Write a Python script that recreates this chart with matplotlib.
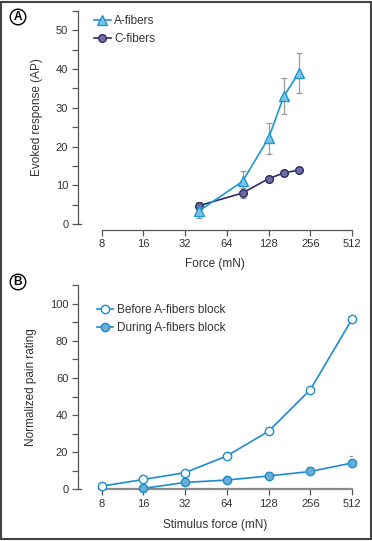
import matplotlib.pyplot as plt
from matplotlib.patches import Rectangle
from matplotlib.ticker import FixedLocator, MultipleLocator

plt.rcParams['font.family'] = ['Liberation Sans', 'DejaVu Sans']
plt.rcParams['font.size'] = 8

# panel A data
force_a = [40, 83, 128, 165, 211]
afib = [3.3, 11.0, 22.2, 33.0, 39.0]
afib_err = [1.8, 2.7, 4.0, 4.6, 5.1]
cfib = [4.7, 8.0, 11.7, 13.2, 13.9]
cfib_err = [1.0, 1.2, 0.8, 0.5, 0.4]

# panel B data
force_before = [8, 16, 32, 64, 128, 256, 512]
before = [1.7, 5.3, 9.0, 18.0, 31.3, 53.7, 91.7]
before_err = [0.5, 1.5, 1.0, 0.8, 1.0, 1.0, 1.0]
force_during = [16, 32, 64, 128, 256, 512]
during = [0.5, 3.7, 5.0, 7.2, 9.6, 14.2]
during_err = [0.5, 1.3, 0.8, 2.3, 2.5, 3.8]

ticks = [8, 16, 32, 64, 128, 256, 512]

axcol = '#555555'
txtcol = '#333333'
errcol = '#999999'

fig = plt.figure(figsize=(3.72, 5.41), dpi=100)
fig.patches.append(Rectangle((0.003, 0.003), 0.994, 0.994, transform=fig.transFigure,
                             fill=False, edgecolor='#444444', linewidth=1.5))

axA = fig.add_axes([78/372, 1-224/541, 274/372, 213/541])
axB = fig.add_axes([78/372, 1-489.3/541, 274/372, 204/541])


def style(ax, ymax, major, minor, outward):
    ax.set_xscale('log', base=2)
    ax.set_xlim(5.39, 512)
    ax.set_ylim(0, ymax)
    ax.xaxis.set_major_locator(FixedLocator(ticks))
    ax.xaxis.set_minor_locator(FixedLocator([]))
    ax.set_xticklabels([str(t) for t in ticks])
    ax.yaxis.set_major_locator(MultipleLocator(major))
    ax.yaxis.set_minor_locator(MultipleLocator(minor))
    for s in ['top', 'right']:
        ax.spines[s].set_visible(False)
    ax.spines['bottom'].set_bounds(8, 512)
    ax.spines['bottom'].set_position(('outward', outward))
    for s in ['left', 'bottom']:
        ax.spines[s].set_color(axcol)
        ax.spines[s].set_linewidth(0.9)
    ax.tick_params(which='both', direction='out', length=4, width=0.9,
                   color=axcol, labelcolor=txtcol, labelsize=8, pad=3)
    ax.patch.set_alpha(0)
    # little foot at the bottom of the y axis
    ax.plot([0, 0.012], [0, 0], transform=ax.transAxes, color=axcol,
            lw=0.9, clip_on=False)


style(axA, 55, 10, 5, 4)
style(axB, 110, 20, 10, 0)
axB.spines['bottom'].set_color('#8a8a8a')
axB.spines['bottom'].set_linewidth(1.6)
axB.spines['bottom'].set_bounds(7.6, 512)

# panel A
axA.errorbar(force_a, afib, yerr=afib_err, fmt='none', ecolor=errcol,
             elinewidth=0.9, capsize=2.5, capthick=0.9, zorder=2)
axA.errorbar(force_a, cfib, yerr=cfib_err, fmt='none', ecolor=errcol,
             elinewidth=0.9, capsize=2.5, capthick=0.9, zorder=2)
axA.plot(force_a, cfib, '-o', color='#2c2c6c', mfc='#6e6e9e', mec='#2c2c6c',
         ms=5.5, lw=1.2, label='C-fibers', zorder=3)
axA.plot(force_a, afib, '-^', color='#1e96d2', mfc='#7cc3e6', mec='#1e96d2',
         ms=6.5, lw=1.2, label='A-fibers', zorder=4)
h, l = axA.get_legend_handles_labels()
axA.legend(h[::-1], l[::-1], loc='upper left', bbox_to_anchor=(0.02, 1.03),
           frameon=False, handlelength=1.4, handletextpad=0.3,
           labelspacing=0.5, fontsize=8.5, labelcolor=txtcol)
axA.set_ylabel('Evoked response (AP)', color=txtcol, fontsize=8.5, labelpad=9)
axA.set_xlabel('Force (mN)', color=txtcol, fontsize=8.5, labelpad=6)

# panel B
axB.errorbar(force_before, before, yerr=[[0]*7, before_err], fmt='none',
             ecolor=errcol, elinewidth=0.9, capsize=2.5, capthick=0.9, zorder=2)
axB.errorbar(force_during, during, yerr=[[0]*6, during_err], fmt='none',
             ecolor=errcol, elinewidth=0.9, capsize=2.5, capthick=0.9, zorder=2)
axB.plot(force_before, before, '-o', color='#1c8ccc', mfc='white', mec='#1c8ccc',
         ms=6, lw=1.2, label='Before A-fibers block', zorder=3, clip_on=False)
axB.plot(force_during, during, '-o', color='#1c8ccc', mfc='#6aaed6', mec='#1c8ccc',
         ms=6, lw=1.2, label='During A-fibers block', zorder=3, clip_on=False)
axB.legend(loc='upper left', bbox_to_anchor=(0.03, 0.96), frameon=False,
           handlelength=1.4, handletextpad=0.3, labelspacing=0.5,
           fontsize=8.5, labelcolor=txtcol)
axB.set_ylabel('Normalized pain rating', color=txtcol, fontsize=8.5, labelpad=9)
axB.set_xlabel('Stimulus force (mN)', color=txtcol, fontsize=8.5, labelpad=7)

# circled panel letters
for y, letter in [(1-17/541, 'A'), (1-282/541, 'B')]:
    fig.text(18/372, y, letter, ha='center', va='center', fontsize=8.5,
             fontweight='bold', color='black',
             bbox=dict(boxstyle='circle,pad=0.15', fc='white', ec='black', lw=1.0))

fig.savefig('out.png', dpi=100)
